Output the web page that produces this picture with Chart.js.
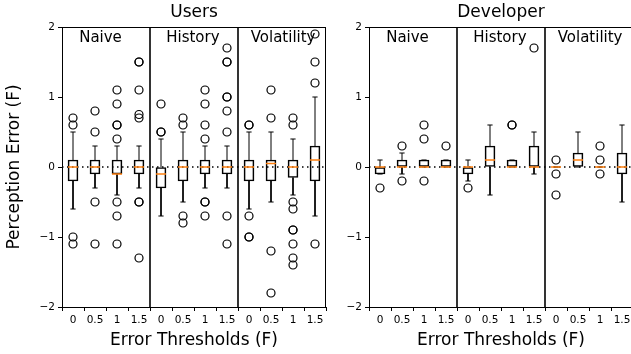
<!DOCTYPE html>
<html>
<head>
<meta charset="utf-8">
<script src="https://cdn.jsdelivr.net/npm/chart.js@4/dist/chart.umd.min.js"></script>
<style>
html, body { margin:0; padding:0; background:#fff; overflow:hidden; width:631px; height:354px; }
.panel { position:absolute; top:0; }
</style>
</head>
<body>
<div class="panel" style="left:0px;width:340px;height:354px"><canvas id="users" width="340" height="354"></canvas></div>
<div class="panel" style="left:320px;width:320px;height:354px"><canvas id="developer" width="320" height="354"></canvas></div>
<script>

// ------------------------------
// Data
// ------------------------------

const thresholds = ["0", "0.5", "1", "1.5"];
const groups = ["Naive", "History", "Volatility"];
const positions = [1, 2, 3, 4, 5, 6, 7, 8, 9, 10, 11, 12];

// Users
const usersQ1     = [-0.2, -0.1, -0.1, -0.1, -0.3, -0.2, -0.1, -0.1, -0.2, -0.2, -0.15, -0.2];
const usersQ3     = [0.1, 0.1, 0.1, 0.1, 0, 0.1, 0.1, 0.1, 0.1, 0.1, 0.1, 0.3];
const usersMedian = [0, 0, -0.1, 0, -0.1, 0, 0, 0, 0, 0.05, 0, 0.1];
const usersLow    = [-0.6, -0.3, -0.4, -0.3, -0.7, -0.5, -0.3, -0.3, -0.6, -0.5, -0.4, -0.7];
const usersHigh   = [0.5, 0.3, 0.3, 0.3, 0.4, 0.5, 0.3, 0.3, 0.5, 0.5, 0.4, 1.0];
const usersOutliers = [
  [0.7, 0.6, -1.0, -1.1],
  [0.8, 0.5, -0.5, -1.1],
  [1.1, 0.9, 0.6, 0.6, 0.4, -0.5, -0.7, -1.1],
  [1.5, 1.5, 1.1, 0.75, 0.7, -0.5, -0.5, -1.3],
  [0.9, 0.5, 0.5],
  [0.7, 0.6, -0.7, -0.8],
  [1.1, 0.9, 0.6, 0.4, -0.5, -0.5, -0.7],
  [1.7, 1.5, 1.5, 1.0, 1.0, 0.8, 0.5, -0.7, -1.1],
  [0.6, 0.6, -0.7, -1.0, -1.0],
  [1.1, 0.7, -1.2, -1.8],
  [0.7, 0.6, -0.5, -0.6, -0.9, -0.9, -1.1, -1.3, -1.4],
  [1.9, 1.5, 1.2, -1.1]
];

// Developer
const devQ1     = [-0.1, 0, 0, 0, -0.1, 0, 0, 0, 0, 0, 0, -0.1];
const devQ3     = [0, 0.1, 0.1, 0.1, 0, 0.3, 0.1, 0.3, 0, 0.2, 0, 0.2];
const devMedian = [0, 0, 0, 0, 0, 0.1, 0, 0, 0, 0.1, 0, 0];
const devLow    = [-0.1, -0.1, 0, 0, -0.2, -0.4, 0, -0.1, 0, 0, 0, -0.5];
const devHigh   = [0.1, 0.2, 0.1, 0.1, 0.1, 0.6, 0.1, 0.5, 0, 0.5, 0, 0.6];
const devOutliers = [
  [-0.3],
  [0.3, -0.2],
  [0.6, 0.4, -0.2],
  [0.3],
  [-0.3],
  [],
  [0.6, 0.6],
  [1.7],
  [0.1, -0.1, -0.4],
  [],
  [0.3, 0.1, -0.1],
  []
];

const separators = [4.5, 8.5];


// ------------------------------
// Defaults
// ------------------------------

Chart.defaults.font.family = "'DejaVu Sans', sans-serif";
Chart.defaults.color = "#000";

const ORANGE = "#ff7f0e";
const groupLabelX = [2.25, 6.45, 10.55];


// ------------------------------
// Frame + titles plugin
// ------------------------------

const framePlugin = {
  id: "frame",
  afterDraw(chart, args, opts) {
    const ctx = chart.ctx;
    const a = chart.chartArea;
    const xs = chart.scales.x;
    const ys = chart.scales.y;

    ctx.save();
    ctx.strokeStyle = "#000";
    ctx.lineWidth = 1;
    ctx.strokeRect(a.left + 0.5, a.top + 0.5, a.right - a.left - 1, a.bottom - a.top);

    ctx.fillStyle = "#000";
    ctx.textAlign = "center";
    ctx.textBaseline = "middle";

    ctx.font = "15px 'DejaVu Sans'";
    groups.forEach((g, i) => {
      ctx.fillText(g, xs.getPixelForValue(groupLabelX[i]), ys.getPixelForValue(1.84));
    });

    ctx.font = "17px 'DejaVu Sans'";
    ctx.fillText(opts.title, (a.left + a.right) / 2, 13);
    ctx.restore();
  }
};


// ------------------------------
// Boxplot chart builder
// ------------------------------

function makeBoxChart(id, title, q1, q3, med, low, high, outliers, yWidth, padRight, yTitle) {

  const boxes = positions.map((x, i) => ({ x: x, y: [q1[i], q3[i]] }));

  const whiskers = [];
  positions.forEach((x, i) => {
    whiskers.push({ x: x, y: q3[i] }, { x: x, y: high[i] }, { x: x, y: null });
    whiskers.push({ x: x, y: q1[i] }, { x: x, y: low[i] }, { x: x, y: null });
  });

  const caps = [];
  positions.forEach((x, i) => {
    caps.push({ x: x, y: high[i] }, { x: x, y: low[i] });
  });

  const medians = positions.map((x, i) => ({ x: x, y: med[i] }));

  const fliers = [];
  positions.forEach((x, i) => {
    outliers[i].forEach(v => fliers.push({ x: x, y: v }));
  });

  const datasets = [
    {
      type: "scatter",
      data: medians,
      pointStyle: "line",
      pointRadius: 5,
      borderColor: ORANGE,
      borderWidth: 1.5
    },
    {
      type: "line",
      data: [{ x: 0.5, y: 0 }, { x: 12.5, y: 0 }],
      borderColor: "#000",
      borderWidth: 1.5,
      borderDash: [1.5, 3.5],
      pointRadius: 0
    },
    {
      type: "scatter",
      data: fliers,
      pointStyle: "circle",
      pointRadius: 4,
      borderColor: "#000",
      backgroundColor: "rgba(0,0,0,0)",
      borderWidth: 1.2
    },
    {
      type: "scatter",
      data: caps,
      pointStyle: "line",
      pointRadius: 2.6,
      borderColor: "#000",
      borderWidth: 1
    },
    {
      type: "line",
      data: whiskers,
      borderColor: "#000",
      borderWidth: 1,
      pointRadius: 0,
      spanGaps: false
    },
    {
      type: "bar",
      data: boxes,
      backgroundColor: "rgba(0,0,0,0)",
      borderColor: "#000",
      borderWidth: 1,
      borderSkipped: false,
      barThickness: 10
    }
  ];

  separators.forEach(s => {
    datasets.push({
      type: "line",
      data: [{ x: s, y: -2 }, { x: s, y: 2 }],
      borderColor: "#000",
      borderWidth: 1.6,
      pointRadius: 0
    });
  });

  return new Chart(document.getElementById(id), {
    type: "scatter",
    data: { datasets: datasets },
    options: {
      responsive: false,
      animation: false,
      events: [],
      layout: { padding: { left: 0, right: padRight, top: 27, bottom: 0 } },
      plugins: {
        legend: { display: false },
        tooltip: { enabled: false },
        frame: { title: title }
      },
      scales: {
        x: {
          type: "linear",
          min: 0.5,
          max: 12.5,
          offset: false,
          border: { display: false },
          grid: { drawOnChartArea: false, drawTicks: true, tickLength: 4, color: "#000" },
          afterBuildTicks: scale => { scale.ticks = positions.map(v => ({ value: v })); },
          afterFit: scale => { scale.height = 47; },
          ticks: {
            autoSkip: false,
            maxRotation: 0,
            padding: 3,
            font: { size: 10.5 },
            callback: (v, i) => thresholds[i % thresholds.length]
          },
          title: {
            display: true,
            text: "Error Thresholds (F)",
            font: { size: 17 },
            padding: { top: 0, bottom: 3 }
          }
        },
        y: {
          type: "linear",
          min: -2,
          max: 2,
          border: { display: false },
          grid: { drawOnChartArea: false, drawTicks: true, tickLength: 4, color: "#000" },
          afterFit: scale => { scale.width = yWidth; },
          ticks: {
            stepSize: 1,
            padding: 3,
            font: { size: 10.5 },
            callback: v => (v < 0 ? "\u2212" + Math.abs(v) : String(v))
          },
          title: {
            display: yTitle !== "",
            text: yTitle,
            font: { size: 17 },
            padding: { top: 4, bottom: 0 }
          }
        }
      }
    },
    plugins: [framePlugin]
  });
}


// ------------------------------
// Charts
// ------------------------------

makeBoxChart("users", "Users", usersQ1, usersQ3, usersMedian, usersLow, usersHigh, usersOutliers,
  62, 14, "Perception Error (F)");

makeBoxChart("developer", "Developer", devQ1, devQ3, devMedian, devLow, devHigh, devOutliers,
  49, 7, "");

</script>
</body>
</html>
